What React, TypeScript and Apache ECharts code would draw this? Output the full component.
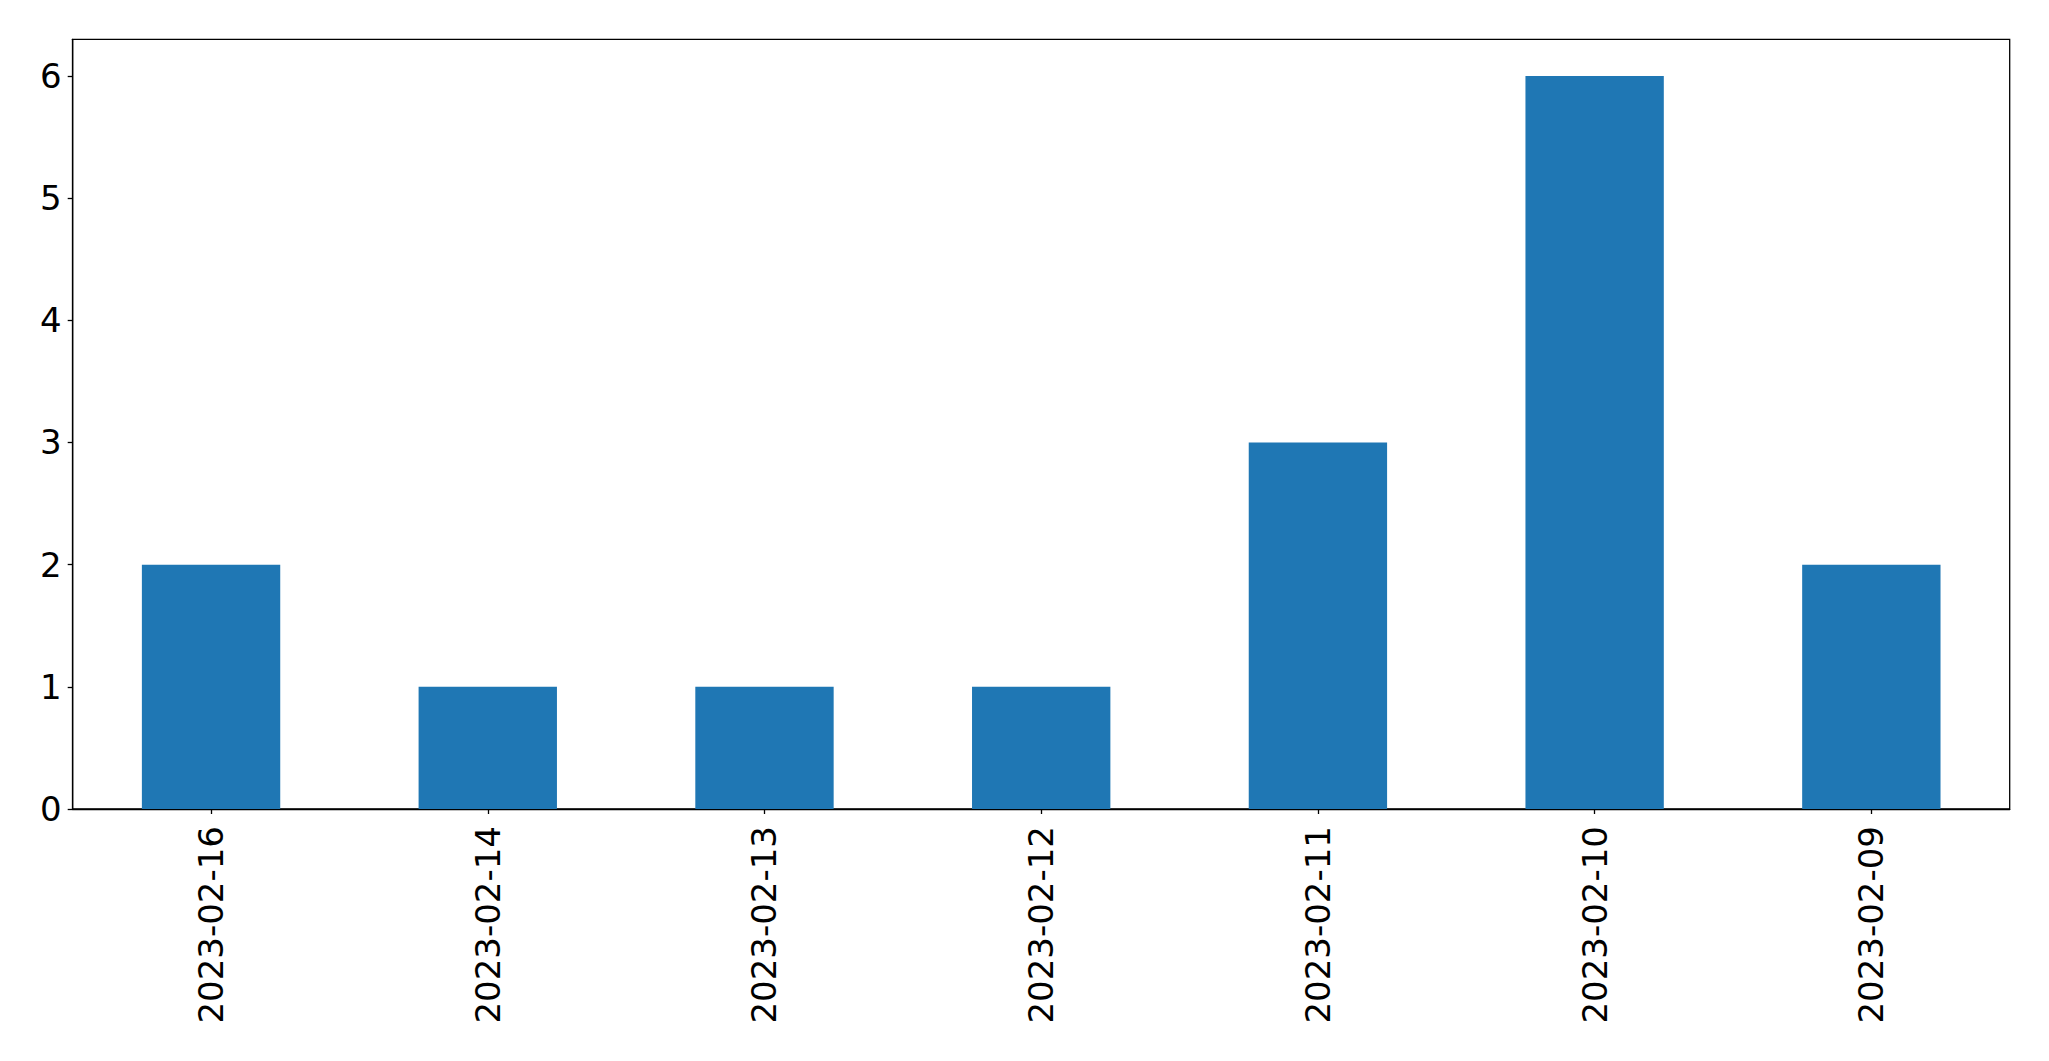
import React, { useEffect, useRef } from "react";
import * as echarts from "echarts";

const categories = ["2023-02-16", "2023-02-14", "2023-02-13", "2023-02-12", "2023-02-11", "2023-02-10", "2023-02-09"];
const values = [2, 1, 1, 1, 3, 6, 2];
const yTicks = [0, 1, 2, 3, 4, 5, 6];

export default function App() {
  const ref = useRef<HTMLDivElement>(null);
  useEffect(() => {
    if (!ref.current) return;
    const chart = echarts.init(ref.current, null, { renderer: "svg" });
    chart.setOption({
      animation: false,
      backgroundColor: "#ffffff",
      textStyle: { fontFamily: "DejaVu Sans" },
      grid: {
        left: 72.7,
        right: 39.3,
        top: 39.3,
        bottom: 252,
        show: true,
        borderColor: "#000000",
        borderWidth: 1.3,
        backgroundColor: "transparent",
        containLabel: false,
      },
      xAxis: {
        type: "category",
        data: categories,
        boundaryGap: true,
        axisLine: { show: true, lineStyle: { color: "#000000", width: 1.3 } },
        axisTick: { show: true, alignWithLabel: true, length: 5, lineStyle: { color: "#000000", width: 1.3 } },
        axisLabel: { rotate: 90, fontSize: 34, color: "#000000", margin: 17, fontFamily: "DejaVu Sans" },
        splitLine: { show: false },
      },
      yAxis: {
        type: "value",
        min: 0,
        max: 6.3,
        axisLine: { show: true, lineStyle: { color: "#000000", width: 1.3 } },
        axisTick: { show: true, length: 5, customValues: yTicks, lineStyle: { color: "#000000", width: 1.3 } },
        axisLabel: { fontSize: 34, color: "#000000", margin: 11, customValues: yTicks, fontFamily: "DejaVu Sans" },
        splitLine: { show: false },
      },
      series: [
        {
          type: "bar",
          data: values,
          barWidth: "50%",
          itemStyle: { color: "#1f77b4" },
        },
      ],
    });
    return () => chart.dispose();
  }, []);
  return <div ref={ref} style={{ position: "absolute", left: 0, top: 0, width: 2049, height: 1061 }} />;
}
